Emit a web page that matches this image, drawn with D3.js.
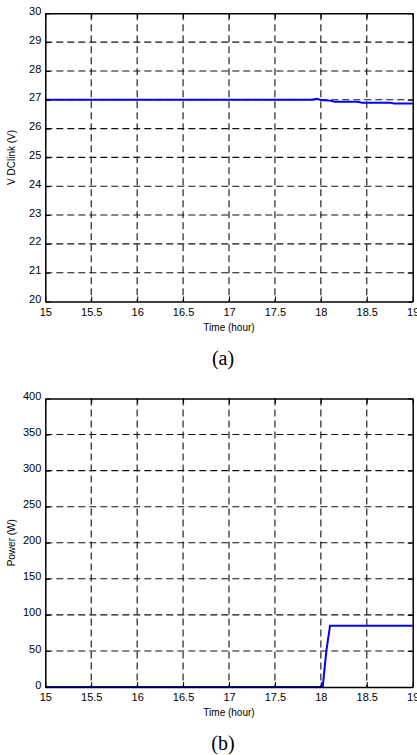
<!DOCTYPE html>
<html><head><meta charset="utf-8">
<script src="https://cdn.jsdelivr.net/npm/d3@7"></script>
<style>body{margin:0;background:#fff}svg{display:block}</style>
</head><body>
<script>
// Data
const xTicks = [15, 15.5, 16, 16.5, 17, 17.5, 18, 18.5, 19];
const vTicks = [20, 21, 22, 23, 24, 25, 26, 27, 28, 29, 30];
const pTicks = [0, 50, 100, 150, 200, 250, 300, 350, 400];
const vTime = [15, 17.9, 17.96, 17.99, 18.03, 18.1, 18.15, 18.4, 18.45, 18.75, 18.8, 19];
const vDC   = [27, 27, 27.03, 27.0, 26.98, 26.97, 26.93, 26.93, 26.9, 26.9, 26.87, 26.87];
const pTime = [15, 18.02, 18.06, 18.1, 19];
const pPow  = [0, 0, 50, 85, 85];

const W = 417, H = 755;
const svg = d3.select("body").append("svg").attr("width", W).attr("height", H);
const SANS = "'Liberation Sans', Arial, sans-serif";

function panel(cfg) {
  const x = d3.scaleLinear().domain([15, 19]).range([45.3, 412.7]);
  const y = d3.scaleLinear().domain(cfg.domain).range([cfg.bottom, cfg.top]);
  const g = svg.append("g");
  // grid
  g.selectAll(".gx").data(xTicks.slice(1, -1)).join("line")
    .attr("x1", d => x(d)).attr("x2", d => x(d)).attr("y1", cfg.top).attr("y2", cfg.bottom)
    .attr("stroke", "#111").attr("stroke-width", 1.1).attr("stroke-dasharray", "7,4");
  g.selectAll(".gy").data(cfg.ticks.slice(1, -1)).join("line")
    .attr("x1", x(15)).attr("x2", x(19)).attr("y1", d => y(d)).attr("y2", d => y(d))
    .attr("stroke", "#111").attr("stroke-width", 1.1).attr("stroke-dasharray", "7,4");
  // line
  const line = d3.line().x((d, i) => x(cfg.t[i])).y(d => y(d));
  g.append("path").datum(cfg.v).attr("d", line)
    .attr("fill", "none").attr("stroke", "#0000ff").attr("stroke-width", 2);
  // axes (ticks inward)
  const ax = g.append("g").attr("transform", `translate(0,${cfg.bottom})`)
    .call(d3.axisBottom(x).tickValues(xTicks).tickSizeInner(-5).tickSizeOuter(0).tickPadding(6).tickFormat(d3.format("")));
  const axT = g.append("g").attr("transform", `translate(0,${cfg.top})`)
    .call(d3.axisTop(x).tickValues(xTicks).tickSizeInner(-5).tickSizeOuter(0).tickFormat(""));
  const ay = g.append("g").attr("transform", `translate(${x(15)},0)`)
    .call(d3.axisLeft(y).tickValues(cfg.ticks).tickSizeInner(-5).tickSizeOuter(0).tickPadding(4));
  const ayR = g.append("g").attr("transform", `translate(${x(19)},0)`)
    .call(d3.axisRight(y).tickValues(cfg.ticks).tickSizeInner(-5).tickSizeOuter(0).tickFormat(""));
  [ax, axT, ay, ayR].forEach(a => {
    a.select(".domain").attr("stroke", "#000").attr("stroke-width", 1.5);
    a.selectAll(".tick line").attr("stroke", "#000").attr("stroke-width", 1);
    a.selectAll("text").attr("font-family", SANS).attr("font-size", 11).attr("fill", "#000");
  });
  ax.selectAll(".tick text").attr("dy", "0.75em");
  ay.selectAll(".tick text").attr("dy", "0.1em");
  // labels
  g.append("text").attr("x", (x(15) + x(19)) / 2).attr("y", cfg.bottom + 29)
    .attr("text-anchor", "middle").attr("font-family", SANS)
    .attr("font-size", 10).text("Time (hour)");
  g.append("text").attr("transform", `translate(15,${(cfg.top + cfg.bottom) / 2}) rotate(-90)`)
    .attr("text-anchor", "middle").attr("font-family", SANS)
    .attr("font-size", 10).text(cfg.ylabel);
  g.append("text").attr("x", 223).attr("y", cfg.capY)
    .attr("text-anchor", "middle").attr("font-family", "'Liberation Serif', 'Times New Roman', serif")
    .attr("font-size", 20).text(cfg.caption);
}

panel({domain: [20, 30], ticks: vTicks, top: 13.3, bottom: 301.5, t: vTime, v: vDC,
       ylabel: "V DClink (V)", caption: "(a)", capY: 365});
panel({domain: [0, 400], ticks: pTicks, top: 398.5, bottom: 687, t: pTime, v: pPow,
       ylabel: "Power (W)", caption: "(b)", capY: 750});
</script>
</body></html>
